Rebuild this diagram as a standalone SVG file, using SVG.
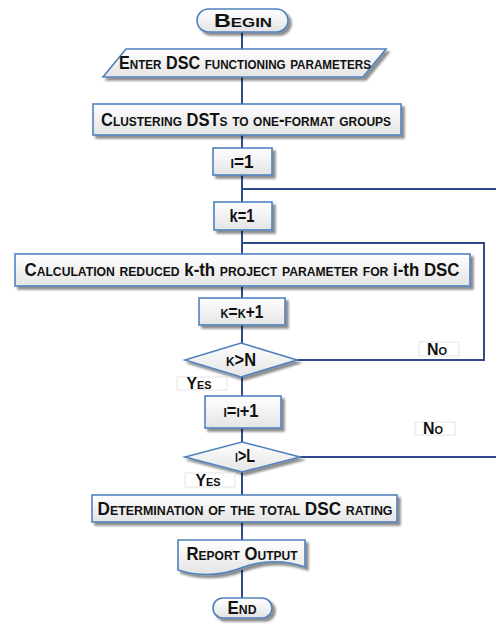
<svg xmlns="http://www.w3.org/2000/svg" width="496" height="625" viewBox="0 0 496 625">
<defs>
<linearGradient id="g" x1="0" y1="0" x2="0" y2="1">
<stop offset="0" stop-color="#ffffff"/>
<stop offset="1" stop-color="#e4e4e4"/>
</linearGradient>
<filter id="sh" x="-10%" y="-20%" width="130%" height="160%">
<feGaussianBlur in="SourceAlpha" stdDeviation="1.2"/>
<feOffset dx="3" dy="3" result="b"/>
<feComponentTransfer><feFuncA type="linear" slope="0.45"/></feComponentTransfer>
<feMerge><feMergeNode/><feMergeNode in="SourceGraphic"/></feMerge>
</filter>
<style>
.s{fill:url(#g);stroke:#4f81bd;stroke-width:1.6;filter:url(#sh)}
.c{fill:none;stroke:#2f4b8c;stroke-width:2}
.lb{fill:#ffffff;stroke:#e3e3e3;stroke-width:1}
.t{font-family:"Liberation Sans",Arial,sans-serif;font-weight:bold;font-variant:small-caps;font-size:18px;fill:#111;text-anchor:middle;dominant-baseline:central}
.m{font-size:16px}
.n{font-variant:normal}
</style>
</defs>
<rect width="496" height="625" fill="#ffffff"/>
<g id="connectors">
<path class="c" d="M242,32V49M242,77V104M242,135V148M242,175V202M242,230V254M242,286V298M242,325V343M242,377V396M242,428V442M242,472V495M242,522V540M242,570V598"/>
<path class="c" d="M242,189H496"/>
<path class="c" d="M242,243H484V360H297"/>
<path class="c" d="M300,457H496"/>
</g>
<g id="begin"><rect class="s" x="197" y="9" width="91" height="23" rx="11.5"/><text class="t" x="243" y="21" textLength="58" lengthAdjust="spacingAndGlyphs">Begin</text></g>
<g id="enter"><polygon class="s" points="126,49 386,49 363,77 103,77"/><text class="t" x="245" y="63" textLength="252" lengthAdjust="spacingAndGlyphs">Enter DSC functioning parameters</text></g>
<g id="clustering"><rect class="s" x="93" y="104" width="308" height="31"/><text class="t" x="246" y="120" textLength="290" lengthAdjust="spacingAndGlyphs">Clustering DSTs to one-format groups</text></g>
<g id="i1"><rect class="s" x="213" y="148" width="59" height="27"/><text class="t" x="242" y="162" textLength="23" lengthAdjust="spacingAndGlyphs">i=1</text></g>
<g id="k1"><rect class="s" x="214" y="202" width="58" height="28"/><text class="t n" x="242" y="216" textLength="25" lengthAdjust="spacingAndGlyphs">k=1</text></g>
<g id="calc"><rect class="s" x="15" y="254" width="455" height="32"/><text class="t" x="242" y="270" textLength="435" lengthAdjust="spacingAndGlyphs">Calculation reduced <tspan class="n">k-th</tspan> project parameter for <tspan class="n">i-th</tspan> DSC</text></g>
<g id="kinc"><rect class="s" x="199" y="298" width="86" height="27"/><text class="t" x="242" y="312" textLength="43" lengthAdjust="spacingAndGlyphs">k=k+1</text></g>
<g id="kcheck"><polygon class="s" points="185,360 241,343 297,360 241,377"/><text class="t" x="241" y="360" textLength="30" lengthAdjust="spacingAndGlyphs">k&gt;N</text></g>
<g id="no1"><rect class="lb" x="419" y="342" width="40" height="14"/><text class="t m" x="437" y="349" textLength="20" lengthAdjust="spacingAndGlyphs">No</text></g>
<g id="yes1"><rect class="lb" x="177" y="377" width="50" height="13"/><text class="t m" x="199" y="383" textLength="25" lengthAdjust="spacingAndGlyphs">Yes</text></g>
<g id="iinc"><rect class="s" x="205" y="396" width="76" height="32"/><text class="t" x="241" y="411" textLength="35" lengthAdjust="spacingAndGlyphs">i=i+1</text></g>
<g id="no2"><rect class="lb" x="415" y="422" width="40" height="13"/><text class="t m" x="433" y="428" textLength="20" lengthAdjust="spacingAndGlyphs">No</text></g>
<g id="icheck"><polygon class="s" points="185,457 242,442 300,457 242,472"/><text class="t" x="245" y="456" textLength="20" lengthAdjust="spacingAndGlyphs">i&gt;L</text></g>
<g id="yes2"><rect class="lb" x="185" y="473" width="50" height="14"/><text class="t m" x="208" y="480" textLength="25" lengthAdjust="spacingAndGlyphs">Yes</text></g>
<g id="determination"><rect class="s" x="92" y="495" width="305" height="27"/><text class="t" x="245" y="509" textLength="295" lengthAdjust="spacingAndGlyphs">Determination of the total DSC rating</text></g>
<g id="report"><path class="s" d="M178,540H305V567Q273,556 241,568Q209,580 178,570Z"/><text class="t" x="242" y="554" textLength="111" lengthAdjust="spacingAndGlyphs">Report Output</text></g>
<g id="end"><rect class="s" x="213" y="598" width="59" height="20" rx="10"/><text class="t" x="242" y="608" textLength="29" lengthAdjust="spacingAndGlyphs">End</text></g>
</svg>
